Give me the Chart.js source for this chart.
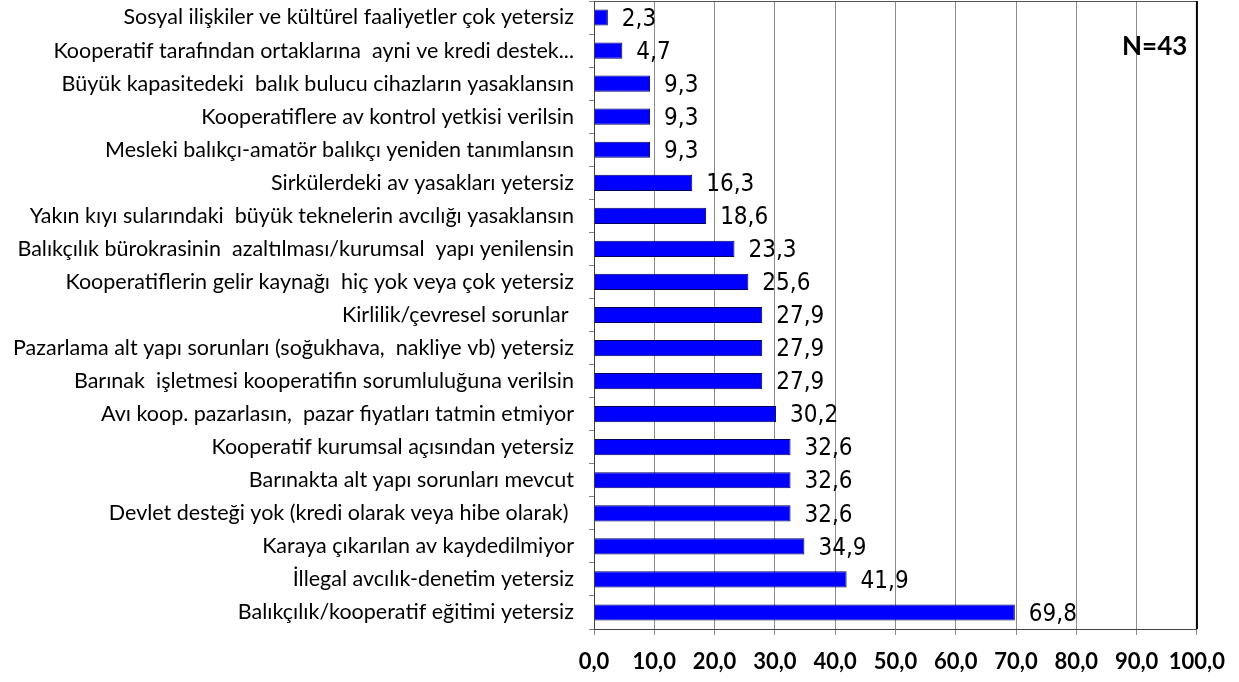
<!DOCTYPE html>
<html>
<head>
<meta charset="utf-8">
<script src="https://cdn.jsdelivr.net/npm/chart.js@4/dist/chart.umd.min.js"></script>
<style>
html,body{margin:0;padding:0;background:#fff;}
canvas{display:block;}
</style>
</head>
<body>
<canvas id="c" width="1239" height="682"></canvas>
<script>
const categories = [
  "Sosyal ilişkiler ve kültürel faaliyetler çok yetersiz",
  "Kooperatif tarafından ortaklarına  ayni ve kredi destek...",
  "Büyük kapasitedeki  balık bulucu cihazların yasaklansın",
  "Kooperatiflere av kontrol yetkisi verilsin",
  "Mesleki balıkçı-amatör balıkçı yeniden tanımlansın",
  "Sirkülerdeki av yasakları yetersiz",
  "Yakın kıyı sularındaki  büyük teknelerin avcılığı yasaklansın",
  "Balıkçılık bürokrasinin  azaltılması/kurumsal  yapı yenilensin",
  "Kooperatiflerin gelir kaynağı  hiç yok veya çok yetersiz",
  "Kirlilik/çevresel sorunlar ",
  "Pazarlama alt yapı sorunları (soğukhava,  nakliye vb) yetersiz",
  "Barınak  işletmesi kooperatifin sorumluluğuna verilsin",
  "Avı koop. pazarlasın,  pazar fiyatları tatmin etmiyor",
  "Kooperatif kurumsal açısından yetersiz",
  "Barınakta alt yapı sorunları mevcut",
  "Devlet desteği yok (kredi olarak veya hibe olarak) ",
  "Karaya çıkarılan av kaydedilmiyor",
  "İllegal avcılık-denetim yetersiz",
  "Balıkçılık/kooperatif eğitimi yetersiz"
];
const percentages = [2.3, 4.7, 9.3, 9.3, 9.3, 16.3, 18.6, 23.3, 25.6, 27.9, 27.9, 27.9, 30.2, 32.6, 32.6, 32.6, 34.9, 41.9, 69.8];
const xTicks = [0, 10, 20, 30, 40, 50, 60, 70, 80, 90, 100];
const sampleNote = "N=43";

const fmt = v => v.toFixed(1).replace('.', ',');

const valueLabels = {
  id: 'valueLabels',
  afterDatasetsDraw(chart) {
    const ctx = chart.ctx;
    const meta = chart.getDatasetMeta(0);
    ctx.save();
    ctx.font = '24px "Liberation Sans Narrow", "DejaVu Sans Condensed", "DejaVu Sans", sans-serif';
    ctx.fillStyle = '#000';
    ctx.textAlign = 'left';
    ctx.textBaseline = 'middle';
    meta.data.forEach((bar, i) => {
      ctx.fillText(fmt(percentages[i]), bar.x + 14, bar.y + 2);
    });
    ctx.restore();
  }
};

const frame = {
  id: 'frame',
  afterDraw(chart) {
    const {ctx, chartArea: a} = chart;
    ctx.save();
    ctx.strokeStyle = '#555';
    ctx.lineWidth = 1;
    ctx.beginPath();
    ctx.moveTo(a.left, a.top + 0.5);
    ctx.lineTo(a.right, a.top + 0.5);
    ctx.stroke();
    ctx.strokeStyle = '#000';
    ctx.lineWidth = 2;
    ctx.beginPath();
    ctx.moveTo(a.right, a.top);
    ctx.lineTo(a.right, a.bottom);
    ctx.stroke();
    ctx.font = 'bold 26px Lato, "Open Sans", sans-serif';
    ctx.fillStyle = '#000';
    ctx.textAlign = 'center';
    ctx.textBaseline = 'middle';
    ctx.fillText(sampleNote, a.left + (a.right - a.left) * 0.93, a.top + 46);
    ctx.restore();
  }
};

new Chart(document.getElementById('c'), {
  type: 'bar',
  data: {
    labels: categories,
    datasets: [{
      data: percentages,
      backgroundColor: '#0000ff',
      borderColor: '#00005a',
      borderWidth: 1,
      barPercentage: 0.49,
      categoryPercentage: 1
    }]
  },
  options: {
    indexAxis: 'y',
    responsive: false,
    animation: false,
    devicePixelRatio: 1,
    layout: {padding: {top: 1, right: 42, bottom: 0, left: 0}},
    plugins: {legend: {display: false}, tooltip: {enabled: false}},
    scales: {
      x: {
        min: 0, max: 100,
        afterBuildTicks: s => { s.ticks = xTicks.map(v => ({value: v})); },
        afterFit: s => { s.height = 53; },
        ticks: {
          callback: v => fmt(v),
          font: {family: 'Lato, "Open Sans", sans-serif', size: 22, weight: 'bold'},
          color: '#000',
          padding: 14,
          maxRotation: 0
        },
        grid: {color: '#8c8c8c', lineWidth: 1, tickLength: 6},
        border: {color: '#444', width: 1}
      },
      y: {
        offset: true,
        afterFit: s => { s.width = 594; s.paddingTop = 0; s.paddingBottom = 0; },
        ticks: {
          font: {family: 'Lato, "Open Sans", sans-serif', size: 21.5},
          color: '#000',
          padding: 15,
          autoSkip: false
        },
        grid: {drawOnChartArea: false, color: '#808080', tickLength: 5, offset: true},
        border: {color: '#444', width: 1}
      }
    }
  },
  plugins: [valueLabels, frame]
});
</script>
</body>
</html>
